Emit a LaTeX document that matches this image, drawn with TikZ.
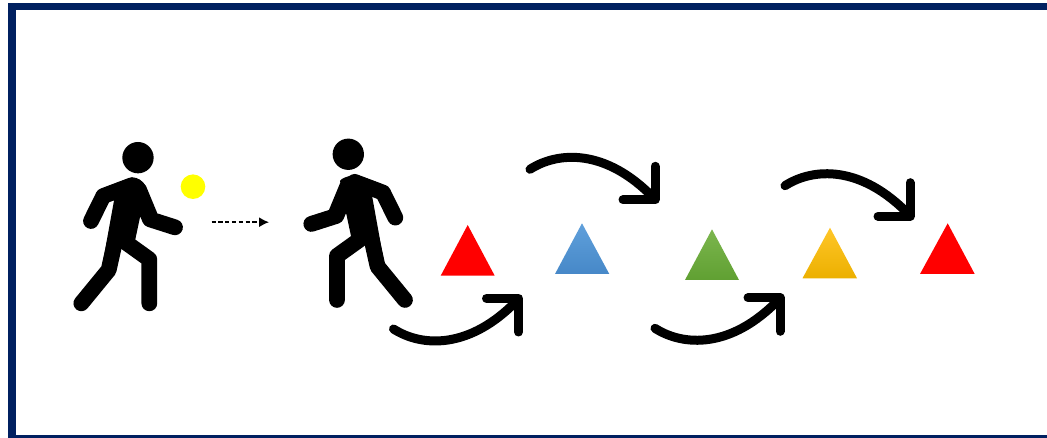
\documentclass[tikz,border=0pt]{standalone}
\usetikzlibrary{arrows.meta}
\definecolor{navyframe}{HTML}{002060}
\definecolor{ballyellow}{RGB}{255,255,0}
\definecolor{conered}{RGB}{255,0,0}
\definecolor{bluetop}{RGB}{96,160,219}
\definecolor{bluebot}{RGB}{70,136,200}
\definecolor{greentop}{RGB}{124,182,78}
\definecolor{greenbot}{RGB}{96,160,50}
\definecolor{goldtop}{RGB}{255,198,40}
\definecolor{goldmid}{RGB}{255,192,0}
\definecolor{goldbot}{RGB}{236,176,0}
\tikzset{
  limb/.style={line width=15.8pt,line cap=round,line join=round,black},
  swoosh/.style={line width=9pt,line cap=round,line join=round,black},
}
\newcommand{\walkerfigure}{%
  \fill (234,83) circle (47);
  \draw[limb] (64,520) -- (146,420) -- (165,335);
  \draw[limb] (268,520) -- (268,388) -- (190,332);
  \draw[limb] (93,273) -- (130,198) -- (215,166);
  \draw[limb] (345,292) -- (270,268) -- (232,175);
  \fill (215,142) to[out=0,in=125] (258,168) -- (292,250) -- (240,262) -- (226,328) -- (180,358) -- (128,400) -- (162,212) -- (135,172) -- cycle;
}
\newcommand{\bentarrow}{%
  \draw[swoosh] (0,0) .. controls (28,18) and (76,21) .. (124,-29);
  \draw[swoosh] (93,-30.5) -- (125,-30.5) -- (125,3);
}
\begin{document}
\begin{tikzpicture}[x=1pt,y=-1pt]
\useasboundingbox (0,0) rectangle (1047,438);
\fill[white] (0,0) rectangle (1047,438);
% frame
\fill[navyframe] (8,2.7) rectangle (1047,10.5);
\fill[navyframe] (8,2.7) rectangle (16,438);
\fill[navyframe] (8,435) rectangle (1047,438);
% walkers
\begin{scope}[shift={(60,130)},x=0.3333pt,y=-0.3333pt]
  \walkerfigure
\end{scope}
\begin{scope}[shift={(426.3,126.6)},x=-0.3333pt,y=-0.3333pt]
  \walkerfigure
\end{scope}
% ball
\fill[ballyellow] (193,186.7) circle (12.3);
% dashed arrow
\coordinate (dashstart) at (211.5,222.2);
\coordinate (dashend) at (269,222.2);
\draw[line width=1.4pt,dash pattern=on 4.2pt off 2.6pt,-{Latex[length=10pt,width=10pt]}] (dashstart) -- (dashend);
% cones
\fill[conered] (467.7,225) -- (494.7,275.7) -- (440.7,275.7) -- cycle;
\shade[top color=bluetop,bottom color=bluebot] (582,223.3) -- (609.3,274) -- (555,274) -- cycle;
\shade[top color=greentop,bottom color=greenbot] (712,229.3) -- (739,280) -- (685,280) -- cycle;
\shade[top color=goldtop,middle color=goldmid,bottom color=goldbot] (830,227.7) -- (857,278.3) -- (802.5,278.3) -- cycle;
\fill[conered] (947.7,223.3) -- (974.7,274) -- (920,274) -- cycle;
% curved arrows
\begin{scope}[shift={(393.5,329)}]\bentarrow\end{scope}
\begin{scope}[shift={(655,328.3)}]\bentarrow\end{scope}
\begin{scope}[shift={(530,169.3)},yscale=-1]\bentarrow\end{scope}
\begin{scope}[shift={(785,185.7)},yscale=-1]\bentarrow\end{scope}
\end{tikzpicture}
\end{document}
